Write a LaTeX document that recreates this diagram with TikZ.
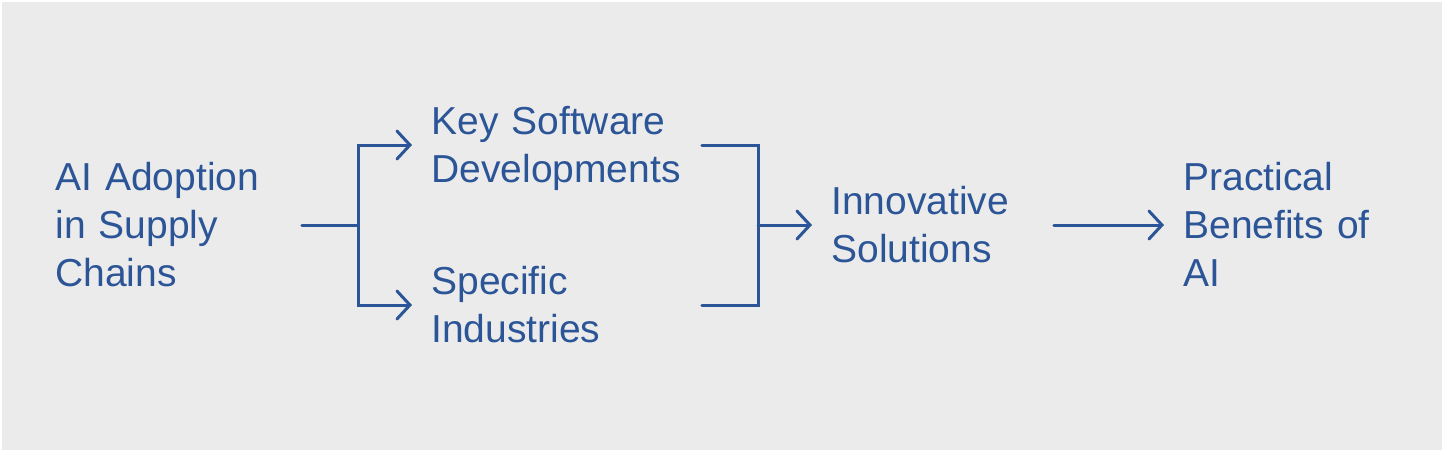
\documentclass[tikz,border=0pt]{standalone}
\usepackage{fontspec}
\setmainfont{Liberation Sans}
\usepackage{tikz}
\usetikzlibrary{positioning,arrows.meta}
\definecolor{flowblue}{RGB}{44,85,151}
\definecolor{panelgray}{RGB}{235,235,235}
\hyphenpenalty=10000
\exhyphenpenalty=10000
% struts so that the middle of a node sits on the cap-height middle
\newcommand{\topstrut}{\rule{0pt}{0.95em}}
\newcommand{\botstrut}{\rule[-0.234em]{0pt}{0pt}}
\tikzset{
  label/.style={anchor=west, align=left, inner xsep=9.5pt, inner ysep=0pt,
    text=flowblue, font=\fontsize{19.5}{24}\selectfont},
  flow/.style={draw=flowblue, line width=1.5pt, line cap=round},
  tip/.style={-{Straight Barb[length=6.5pt,width=14pt,line cap=round]}}
}

\begin{document}
\begin{tikzpicture}[x=0.5pt, y=-0.5pt]
  \useasboundingbox (0,0) rectangle (1444,452);
  % Draw the panel
  \fill[panelgray] (2,2) rectangle (1442,450);

  % Add the labels
  \node (adopt) at (36,225) [label, text width=113.5pt] {\topstrut AI Adoption\\in Supply\\Chains\botstrut};
  \node (keysw) at (412,145) [label, text width=125.5pt] {\topstrut Key Software\\Developments\botstrut};
  \node (spec) at (412,305) [label, text width=125.5pt] {\topstrut Specific\\Industries\botstrut};
  \node (innov) at (812,225) [label, text width=101.5pt] {\topstrut Innovative\\Solutions\botstrut};
  \node (bene) at (1164,225) [label, text width=100pt] {\topstrut Practical\\Benefits of\\AI\botstrut};

  \coordinate (split) at (358,225);
  \coordinate (merge) at (758,225);

  % Connect them
  \draw[flow] (adopt.east) -- (split);
  \foreach \n in {keysw, spec} {
    \draw[flow, tip] (split) |- (\n.west);
    \draw[flow] (\n.east) -| (merge);
  }
  \draw[flow, tip] (merge) -- (innov.west);
  \draw[flow, tip] (innov.east) -- (bene.west);

\end{tikzpicture}
\end{document}
